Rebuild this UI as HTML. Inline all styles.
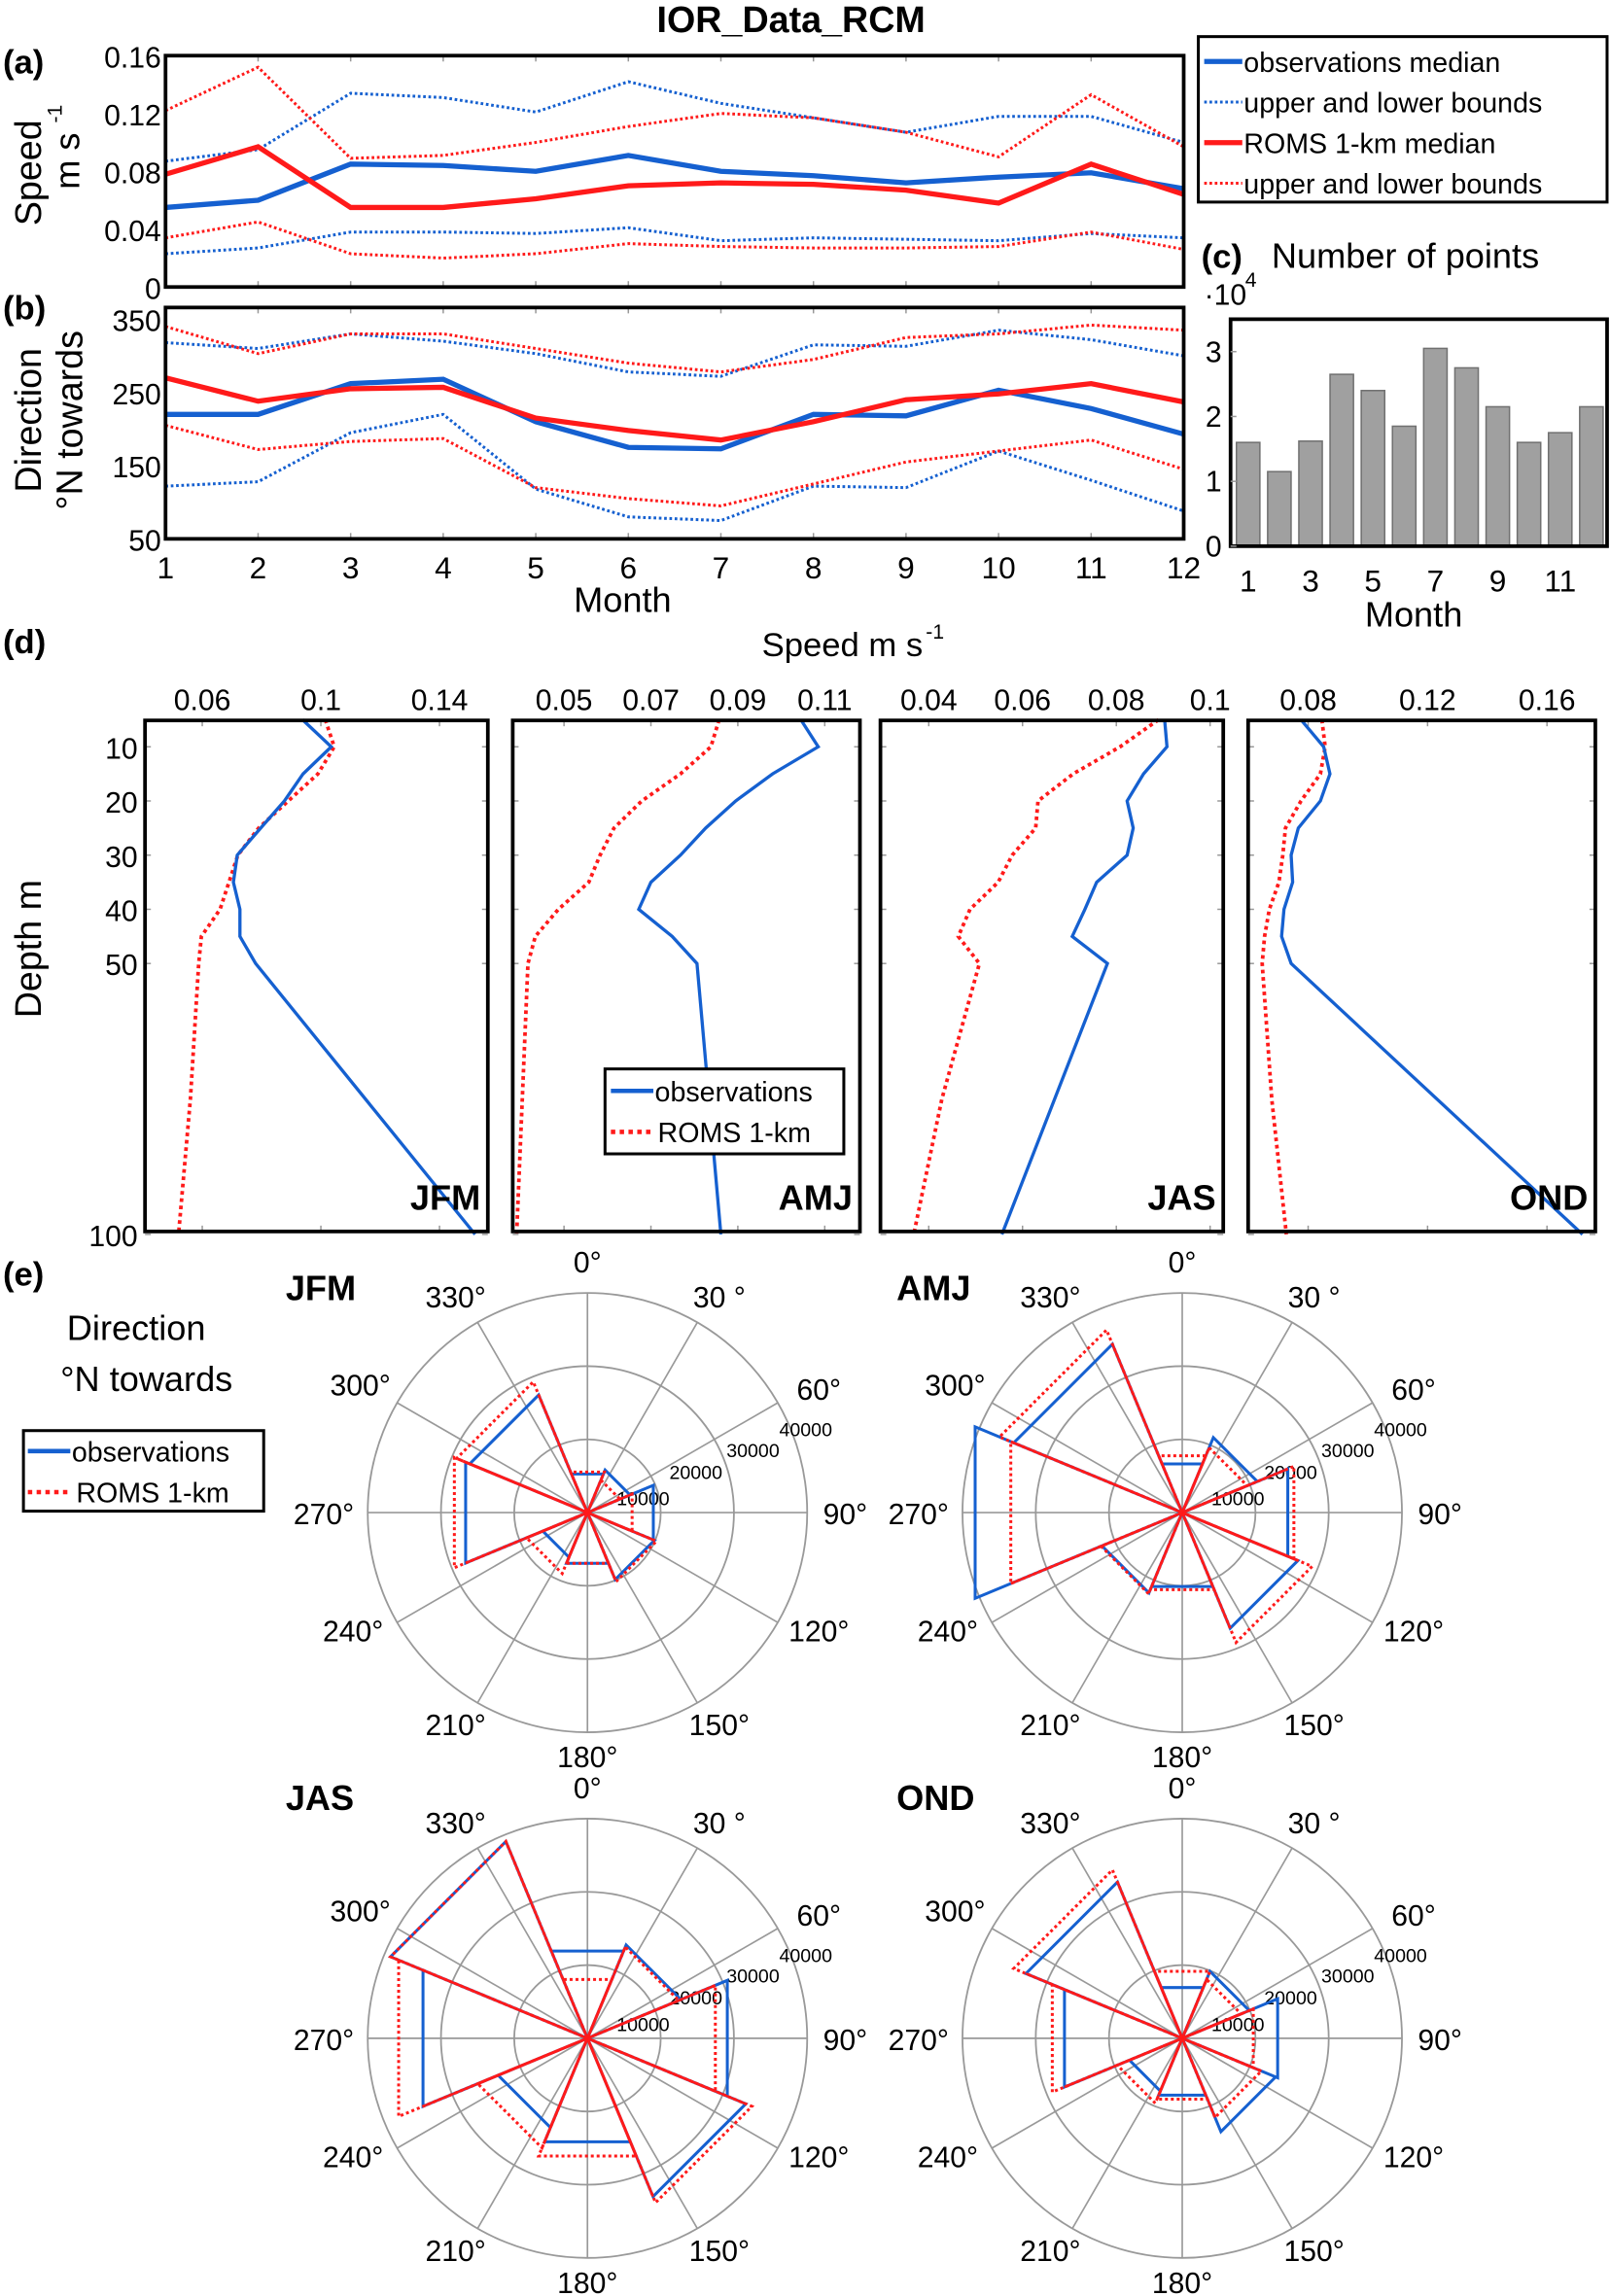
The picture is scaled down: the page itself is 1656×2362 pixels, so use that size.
<!DOCTYPE html>
<html><head><meta charset="utf-8"><style>
html,body{margin:0;padding:0;background:#fff}
svg{display:block}
text{font-family:"Liberation Sans",Arial,sans-serif;fill:#000}
</style></head><body>
<svg id="fig" width="1656" height="2362" viewBox="0 0 1099 1568" preserveAspectRatio="none" xmlns="http://www.w3.org/2000/svg">
<rect x="0" y="0" width="1099" height="1568" fill="#fff"/>
<text x="540" y="22" font-size="25" font-weight="bold" text-anchor="middle">IOR_Data_RCM</text>
</svg>
<script>
// ---------- Panel (a) data: speed by month ----------
const months = [1,2,3,4,5,6,7,8,9,10,11,12];
const obsMedSpeed = [0.055,0.06,0.085,0.084,0.08,0.091,0.08,0.077,0.072,0.076,0.079,0.068];
const obsUpSpeed  = [0.087,0.095,0.134,0.131,0.121,0.142,0.127,0.117,0.107,0.118,0.118,0.1];
const obsLoSpeed  = [0.023,0.027,0.038,0.038,0.037,0.041,0.032,0.034,0.033,0.032,0.037,0.034];
const romsMedSpeed= [0.078,0.097,0.055,0.055,0.061,0.07,0.072,0.071,0.067,0.058,0.085,0.064];
const romsUpSpeed = [0.122,0.152,0.089,0.091,0.1,0.111,0.12,0.117,0.107,0.09,0.133,0.097];
const romsLoSpeed = [0.034,0.045,0.023,0.02,0.023,0.03,0.028,0.027,0.027,0.028,0.038,0.026];
const speedTicks = [0,0.04,0.08,0.12,0.16];
const speedTickLabels = ["0","0.04","0.08","0.12","0.16"];
// ---------- Panel (b) data: direction by month ----------
const obsMedDir = [220,220,262,268,210,175,173,220,218,253,228,193];
const obsUpDir  = [318,310,330,320,303,278,272,315,313,335,322,300];
const obsLoDir  = [122,128,195,220,118,80,75,122,120,170,130,88];
const romsMedDir= [270,238,255,257,215,198,185,210,240,248,262,237];
const romsUpDir = [340,303,330,330,310,290,278,295,325,330,342,335];
const romsLoDir = [205,172,183,187,120,105,95,125,155,170,185,145];
const dirTicks = [50,150,250,350];
// ---------- Panel (c) data: number of points (x1e4) ----------
const pointCounts = [1.6,1.15,1.62,2.65,2.4,1.85,3.05,2.75,2.15,1.6,1.75,2.15];
const countTicks = [0,1,2,3];
const countMonthLabels = [1,3,5,7,9,11];
// ---------- Panel (d) data: depth profiles ----------
const depthObs = [5,10,15,20,25,30,35,40,45,50,100];
const depthRoms = [5,10,15,20,25,30,35,40,45,50,75,100];
const depthTicks = [10,20,30,40,50,100];
const seasons = ["JFM","AMJ","JAS","OND"];
const obsJFM = [0.0938,0.1035,0.094,0.0877,0.0797,0.0718,0.0705,0.0727,0.0727,0.078,0.152];
const romsJFM = [0.1015,0.1045,0.099,0.089,0.079,0.072,0.069,0.066,0.0597,0.0588,0.056,0.052];
const obsAMJ = [0.1045,0.1085,0.098,0.0895,0.0826,0.0768,0.07,0.0672,0.0749,0.0806,0.0861];
const romsAMJ = [0.0857,0.0838,0.0768,0.0679,0.0615,0.0583,0.0557,0.0487,0.0434,0.0417,0.0404,0.0391];
const obsJAS = [0.0903,0.0908,0.0858,0.0823,0.0836,0.0823,0.0758,0.0733,0.0706,0.0781,0.0556];
const romsJAS = [0.089,0.0808,0.0708,0.0633,0.0628,0.0578,0.0548,0.0488,0.0463,0.0508,0.0428,0.0368];
const obsOND = [0.0776,0.0852,0.0873,0.0841,0.0767,0.0743,0.0748,0.0719,0.0711,0.0743,0.1719];
const romsOND = [0.0846,0.0857,0.0841,0.0776,0.0724,0.0715,0.0702,0.067,0.0654,0.0646,0.0678,0.0727];
const profTicksJFM = [0.06,0.1,0.14];
const profTicksAMJ = [0.05,0.07,0.09,0.11];
const profTicksJAS = [0.04,0.06,0.08,0.1];
const profTicksOND = [0.08,0.12,0.16];
// ---------- Panel (e) data: rose counts in 8 bins (N,NE,E,SE,S,SW,W,NW) ----------
const roseBinCenters = [0,45,90,135,180,225,270,315];
const roseObsJFM = [8550,9450,14600,14850,11250,9900,27000,26100];
const roseRomsJFM = [9000,7200,9900,15300,11250,13500,29500,29000];
const roseObsAMJ = [10800,16650,23400,25650,16400,17800,45900,37350];
const roseRomsAMJ = [12600,14400,24750,28800,17100,18000,38000,40500];
const roseObsJAS = [19350,20700,31000,35100,22950,19800,36450,43650];
const roseRomsJAS = [13050,20250,28350,36450,26100,24300,41850,43650];
const roseObsOND = [11250,14850,21150,20700,12600,11700,26100,34650];
const roseRomsOND = [14850,13050,15750,17550,13500,14400,28800,37350];
const roseRingValues = [15000,30000,45000];
const roseRadialLabels = ["10000","20000","30000","40000"];
const angleLabels = ["0°","30 °","60°","90°","120°","150°","180°","210°","240°","270°","300°","330°"];

const NS="http://www.w3.org/2000/svg";
const svg=document.getElementById('fig');
const BLUE="#1560d0", RED="#ff1a1a";
function mk(tag,attrs,parent){const e=document.createElementNS(NS,tag);for(const k in attrs)e.setAttribute(k,attrs[k]);(parent||svg).appendChild(e);return e;}
function txt(x,y,s,size,parent,extra){const t=mk('text',Object.assign({x:x,y:y,'font-size':size},extra||{}),parent);t.textContent=s;return t;}
function grp(name){const g=mk('g',{});return g;}

// ===== Panel (a) =====
(function(){
 const g=grp('panel-a-speed');
 const L=113,R=808,T=38,B=196;
 const x=m=>L+(m-1)*(R-L)/11, y=v=>B-(v/0.16)*(B-T);
 for(let m=1;m<=12;m++){mk('line',{x1:x(m),y1:B,x2:x(m),y2:B-4,stroke:'#999'},g);mk('line',{x1:x(m),y1:T,x2:x(m),y2:T+4,stroke:'#999'},g);}
 const series=[[obsUpSpeed,BLUE,2,'1.8 1.8','obs-upper-bound'],[obsLoSpeed,BLUE,2,'1.8 1.8','obs-lower-bound'],[romsUpSpeed,RED,2,'1.8 1.8','roms-upper-bound'],[romsLoSpeed,RED,2,'1.8 1.8','roms-lower-bound'],[obsMedSpeed,BLUE,3.5,'','obs-median-line'],[romsMedSpeed,RED,3.5,'','roms-median-line']];
 series.forEach(s=>{const p=mk('polyline',{points:s[0].map((v,i)=>x(months[i])+','+y(v)).join(' '),fill:'none',stroke:s[1],'stroke-width':s[2],'stroke-dasharray':s[3]},g);});
 mk('rect',{x:L,y:T,width:R-L,height:B-T,fill:'none',stroke:'#000','stroke-width':2.5},g);
 speedTicks.forEach((v,i)=>{const t=txt(L-3,y(v)+8,speedTickLabels[i],20,g,{'text-anchor':'end'});});
 const a=txt(2,50,'(a)',23,g,{'font-weight':'bold'});
 const yl=txt(0,0,'Speed',25,g,{transform:'translate(28,118) rotate(-90)','text-anchor':'middle'});
 const yl2=txt(0,0,'m s',24,g,{transform:'translate(54,110) rotate(-90)','text-anchor':'middle'});
 txt(0,0,'-1',14,g,{transform:'translate(42,84) rotate(-90)'});
})();

// ===== Legend (a/b) =====
(function(){
 const g=grp('legend-monthly');
 mk('rect',{x:818,y:25,width:279,height:113,fill:'#fff',stroke:'#000','stroke-width':2},g);
 const items=[[BLUE,3.5,'','observations median'],[BLUE,2,'1.8 1.8','upper and lower bounds'],[RED,3.5,'','ROMS 1-km median'],[RED,2,'1.8 1.8','upper and lower bounds']];
 items.forEach((it,i)=>{const yy=42+i*27.7;const e=grp('legend-entry');g.appendChild(e);mk('line',{x1:822,y1:yy,x2:848,y2:yy,stroke:it[0],'stroke-width':it[1],'stroke-dasharray':it[2]},e);txt(849,yy+7,it[3],19,e);});
})();

// ===== Panel (b) =====
(function(){
 const g=grp('panel-b-direction');
 const L=113,R=808,T=210,B=368;
 const x=m=>L+(m-1)*(R-L)/11, y=v=>368-(v-50)*150/300;
 for(let m=1;m<=12;m++){mk('line',{x1:x(m),y1:B,x2:x(m),y2:B-4,stroke:'#999'},g);mk('line',{x1:x(m),y1:T,x2:x(m),y2:T+4,stroke:'#999'},g);
  const t=txt(x(m),395,String(months[m-1]),21,g,{'text-anchor':'middle'});}
 const series=[[obsUpDir,BLUE,2,'1.8 1.8','obs-dir-upper'],[obsLoDir,BLUE,2,'1.8 1.8','obs-dir-lower'],[romsUpDir,RED,2,'1.8 1.8','roms-dir-upper'],[romsLoDir,RED,2,'1.8 1.8','roms-dir-lower'],[obsMedDir,BLUE,3.5,'','obs-dir-median'],[romsMedDir,RED,3.5,'','roms-dir-median']];
 series.forEach(s=>{const p=mk('polyline',{points:s[0].map((v,i)=>x(months[i])+','+y(v)).join(' '),fill:'none',stroke:s[1],'stroke-width':s[2],'stroke-dasharray':s[3]},g);});
 mk('rect',{x:L,y:T,width:R-L,height:B-T,fill:'none',stroke:'#000','stroke-width':2.5},g);
 dirTicks.forEach(v=>{const t=txt(L-3,Math.min(y(v)+8,376),String(v),20,g,{'text-anchor':'end'});});
 const b=txt(2,218,'(b)',23,g,{'font-weight':'bold'});
 const yl=txt(0,0,'Direction',25,g,{transform:'translate(28,287) rotate(-90)','text-anchor':'middle'});
 txt(0,0,'°N towards',25,g,{transform:'translate(56,287) rotate(-90)','text-anchor':'middle'});
 const xl=txt(425,418,'Month',24,g,{'text-anchor':'middle'});
})();

// ===== Panel (c) =====
(function(){
 const g=grp('panel-c-number-of-points');
 const L=840,R=1097,T=218,B=373;
 const x=m=>852+(m-1)*21.3, y=v=>B-v/3.5*(B-T);
 pointCounts.forEach((v,i)=>{const r=mk('rect',{x:x(months[i])-8,y:y(v),width:16,height:B-y(v),fill:'#a0a0a0',stroke:'#707070','stroke-width':1},g);
  });
 mk('rect',{x:L,y:T,width:R-L,height:B-T,fill:'none',stroke:'#000','stroke-width':2.5},g);
 countTicks.forEach(v=>{mk('line',{x1:L,y1:y(v),x2:L+4,y2:y(v),stroke:'#999'},g);const t=txt(L-6,y(v)+7,String(v),20,g,{'text-anchor':'end'});});
 countMonthLabels.forEach(m=>{const t=txt(x(m),404,String(m),21,g,{'text-anchor':'middle'});});
 const c=txt(820,183,'(c)',23,g,{'font-weight':'bold'});
 const t=txt(868,183,'Number of points',24,g);
 txt(822,208,'·10',20,g);txt(850,196,'4',14,g);
 const xl=txt(965,428,'Month',24,g,{'text-anchor':'middle'});
})();

// ===== Panel (d) =====
(function(){
 const g=grp('panel-d-profiles');
 const d=txt(2,446,'(d)',23,g,{'font-weight':'bold'});
 const st=txt(575,448,'Speed m s',23,g,{'text-anchor':'middle'});
 txt(632,436,'-1',14,g);
 const yl=txt(0,0,'Depth m',25,g,{transform:'translate(28,648) rotate(-90)','text-anchor':'middle'});
 const T=492,B=841;
 const yD=dd=>510+(dd-10)*(658-510)/40;
 const panels=[
  {L:99,R:333,xmin:0.0407,xmax:0.1563,obs:obsJFM,roms:romsJFM,ticks:profTicksJFM},
  {L:350,R:587,xmin:0.0382,xmax:0.1181,obs:obsAMJ,roms:romsAMJ,ticks:profTicksAMJ},
  {L:601,R:835,xmin:0.0297,xmax:0.1028,obs:obsJAS,roms:romsJAS,ticks:profTicksJAS},
  {L:852,R:1089,xmin:0.0599,xmax:0.1762,obs:obsOND,roms:romsOND,ticks:profTicksOND}];
 panels.forEach((p,k)=>{
  const sg=grp('profile-'+seasons[k].toLowerCase());g.appendChild(sg);
  const x=v=>p.L+(v-p.xmin)/(p.xmax-p.xmin)*(p.R-p.L);
  p.ticks.forEach(v=>{mk('line',{x1:x(v),y1:T,x2:x(v),y2:T+4,stroke:'#999'},sg);mk('line',{x1:x(v),y1:B,x2:x(v),y2:B-4,stroke:'#999'},sg);
   const t=txt(x(v),485,String(v),20,sg,{'text-anchor':'middle'});});
  depthTicks.forEach(dd=>{mk('line',{x1:p.L,y1:yD(dd),x2:p.L+4,y2:yD(dd),stroke:'#999'},sg);mk('line',{x1:p.R,y1:yD(dd),x2:p.R-4,y2:yD(dd),stroke:'#999'},sg);});
  const r=mk('polyline',{points:p.roms.map((v,i)=>x(v)+','+yD(depthRoms[i])).join(' '),fill:'none',stroke:RED,'stroke-width':2.5,'stroke-dasharray':'2.5 2.5'},sg);
  
  const o=mk('polyline',{points:p.obs.map((v,i)=>x(v)+','+yD(depthObs[i])).join(' '),fill:'none',stroke:BLUE,'stroke-width':2.2},sg);
  
  mk('rect',{x:p.L,y:T,width:p.R-p.L,height:B-T,fill:'none',stroke:'#000','stroke-width':2.5},sg);
  const sl=txt(p.R-5,826,seasons[k],24,sg,{'text-anchor':'end','font-weight':'bold'});
 });
 depthTicks.forEach(dd=>{const t=txt(94,yD(dd)+8,String(dd),20,g,{'text-anchor':'end'});});
 const lg=grp('legend-profiles');g.appendChild(lg);
 mk('rect',{x:413,y:730,width:163,height:58,fill:'#fff',stroke:'#000','stroke-width':2},lg);
 mk('line',{x1:417,y1:745,x2:446,y2:745,stroke:BLUE,'stroke-width':3},lg);txt(447,752,'observations',19,lg);
 mk('line',{x1:417,y1:773,x2:446,y2:773,stroke:RED,'stroke-width':3,'stroke-dasharray':'3 3'},lg);txt(449,780,'ROMS 1-km',19,lg);
})();

// ===== Panel (e) =====
(function(){
 const g=grp('panel-e-roses');
 const e=txt(2,878,'(e)',23,g,{'font-weight':'bold'});
 const t1=txt(93,915,'Direction',24,g,{'text-anchor':'middle'});
 txt(100,950,'°N towards',24,g,{'text-anchor':'middle'});
 const lg=grp('legend-roses');g.appendChild(lg);
 mk('rect',{x:16,y:977,width:164,height:55,fill:'#fff',stroke:'#000','stroke-width':2},lg);
 mk('line',{x1:19,y1:991,x2:48,y2:991,stroke:BLUE,'stroke-width':3},lg);txt(49,998,'observations',19,lg);
 mk('line',{x1:19,y1:1019,x2:48,y2:1019,stroke:RED,'stroke-width':3,'stroke-dasharray':'3 3'},lg);txt(52,1026,'ROMS 1-km',19,lg);
 const R=150, RMAX=45000;
 const roses=[
  {cx:401,cy:1033,lx:195,ly:888,obs:roseObsJFM,roms:roseRomsJFM},
  {cx:807,cy:1033,lx:612,ly:888,obs:roseObsAMJ,roms:roseRomsAMJ},
  {cx:401,cy:1392,lx:195,ly:1236,obs:roseObsJAS,roms:roseRomsJAS},
  {cx:807,cy:1392,lx:612,ly:1236,obs:roseObsOND,roms:roseRomsOND}];
 const labOff=[[0,-164],[90,-140],[158,-77],[176,8],[158,88],[90,152],[0,174],[-90,152],[-160,88],[-180,8],[-155,-80],[-90,-140]];
 const radOff=[[38,-9],[74,-27],[113,-42],[149,-56]];
 roses.forEach((r,k)=>{
  const rg=grp('rose-'+seasons[k].toLowerCase());g.appendChild(rg);
  const pt=(deg,val)=>{const a=deg*Math.PI/180, rr=val/RMAX*R;return [r.cx+rr*Math.sin(a), r.cy-rr*Math.cos(a)];};
  roseRingValues.forEach(v=>mk('circle',{cx:r.cx,cy:r.cy,r:v/RMAX*R,fill:'none',stroke:'#999','stroke-width':1.2},rg));
  for(let a=0;a<360;a+=30){const p=pt(a,RMAX);mk('line',{x1:r.cx,y1:r.cy,x2:p[0],y2:p[1],stroke:'#999','stroke-width':1.1},rg);}
  angleLabels.forEach((s,i)=>{const t=txt(r.cx+labOff[i][0],r.cy+labOff[i][1],s,20,rg,{'text-anchor':'middle'});});
  roseRadialLabels.forEach((s,i)=>{const t=txt(r.cx+radOff[i][0],r.cy+radOff[i][1]+4,s,13,rg,{'text-anchor':'middle'});});
  function rosePath(vals){let d='';vals.forEach((v,i)=>{const c=roseBinCenters[i];const a=pt(c-22.5,v),b=pt(c+22.5,v);d+='M'+r.cx+','+r.cy+'L'+a[0]+','+a[1]+'L'+b[0]+','+b[1]+'Z';});return d;}
  const po=mk('path',{d:rosePath(r.obs),fill:'none',stroke:BLUE,'stroke-width':2},rg);
  
  const pr=mk('path',{d:rosePath(r.roms),fill:'none',stroke:RED,'stroke-width':2,'stroke-dasharray':'2 2'},rg);
  
  r.roms.forEach((v,i)=>{const c=roseBinCenters[i];[c-22.5,c+22.5].forEach(an=>{const p=pt(an,Math.min(v,r.obs[i]));mk('line',{x1:r.cx,y1:r.cy,x2:p[0],y2:p[1],stroke:RED,'stroke-width':1.6},rg);});});
  const sl=txt(r.lx,r.ly,seasons[k],24,rg,{'font-weight':'bold'});
 });
})();
</script>
</body></html>
